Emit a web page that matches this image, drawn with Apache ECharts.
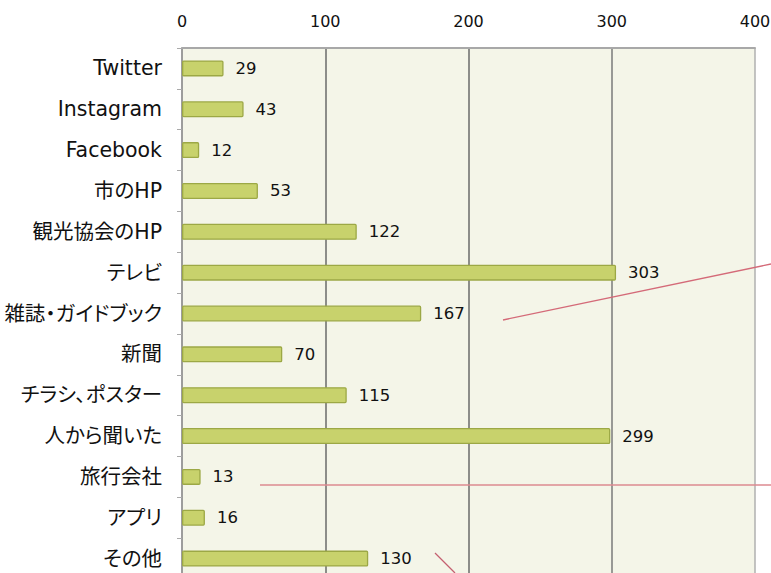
<!DOCTYPE html>
<html>
<head>
<meta charset="utf-8">
<script src="https://cdn.jsdelivr.net/npm/echarts@6/dist/echarts.min.js"></script>
<style>
  html, body { margin: 0; padding: 0; background: #ffffff; }
  #chart { width: 771px; height: 573px; }
  /* proportional kana spacing for the Japanese category names */
  #chart text { font-feature-settings: "palt" 1; }
</style>
</head>
<body>
<div id="chart"></div>
<script>
// Information sources (number of responses)
const categories = ['Twitter', 'Instagram', 'Facebook', '市のHP', '観光協会のHP', 'テレビ', '雑誌・ガイドブック', '新聞', 'チラシ、ポスター', '人から聞いた', '旅行会社', 'アプリ', 'その他'];
const counts = [29, 43, 12, 53, 122, 303, 167, 70, 115, 299, 13, 16, 130];
const axisTicks = [0, 100, 200, 300, 400];

const FONT = '"DejaVu Sans", "Noto Sans CJK JP", sans-serif';

const chart = echarts.init(document.getElementById('chart'), null, { renderer: 'svg' });

chart.setOption({
  animation: false,
  backgroundColor: '#ffffff',
  grid: {
    left: 182, right: 16, top: 48, bottom: -6,
    containLabel: false, outerBoundsMode: 'none',
    show: true, backgroundColor: '#f4f5e8', borderWidth: 0
  },
  xAxis: {
    type: 'value',
    position: 'top',
    min: axisTicks[0],
    max: axisTicks[axisTicks.length - 1],
    interval: axisTicks[1] - axisTicks[0],
    axisLine: { show: true, lineStyle: { color: '#a8a8a8', width: 2 } },
    axisTick: { show: false },
    axisLabel: { margin: 19, color: '#111', fontSize: 16, fontFamily: FONT },
    splitLine: { show: true, lineStyle: { color: ['#8a8a8a', '#6a6a6a', '#6a6a6a', '#7a7a7a', '#b0b0b0'], width: 1.5 } }
  },
  yAxis: {
    type: 'category',
    data: categories,
    inverse: true,
    axisLine: { show: true, lineStyle: { color: '#9a9a9a', width: 1.5 } },
    axisTick: { show: true, length: 5, lineStyle: { color: '#aaaaaa' } },
    axisLabel: { margin: 20, color: '#111', fontSize: 20.5, fontFamily: FONT }
  },
  series: [{
    type: 'bar',
    data: counts,
    barWidth: 16,
    itemStyle: { color: '#c8d26c', borderColor: '#9ca845', borderWidth: 1.3, borderRadius: 1 },
    label: {
      show: true, position: 'right', distance: 12,
      color: '#111', fontSize: 16.5, fontFamily: FONT
    }
  }],
  graphic: [
    { type: 'line', shape: { x1: 503, y1: 320, x2: 771, y2: 264 }, style: { stroke: '#d46a78', lineWidth: 1.3 }, z: 100 },
    { type: 'line', shape: { x1: 260, y1: 485, x2: 771, y2: 485 }, style: { stroke: '#dc8a90', lineWidth: 1.5 }, z: 100 },
    { type: 'line', shape: { x1: 435, y1: 553, x2: 455, y2: 573 }, style: { stroke: '#c46070', lineWidth: 1.3 }, z: 100 }
  ]
});
</script>
</body>
</html>
